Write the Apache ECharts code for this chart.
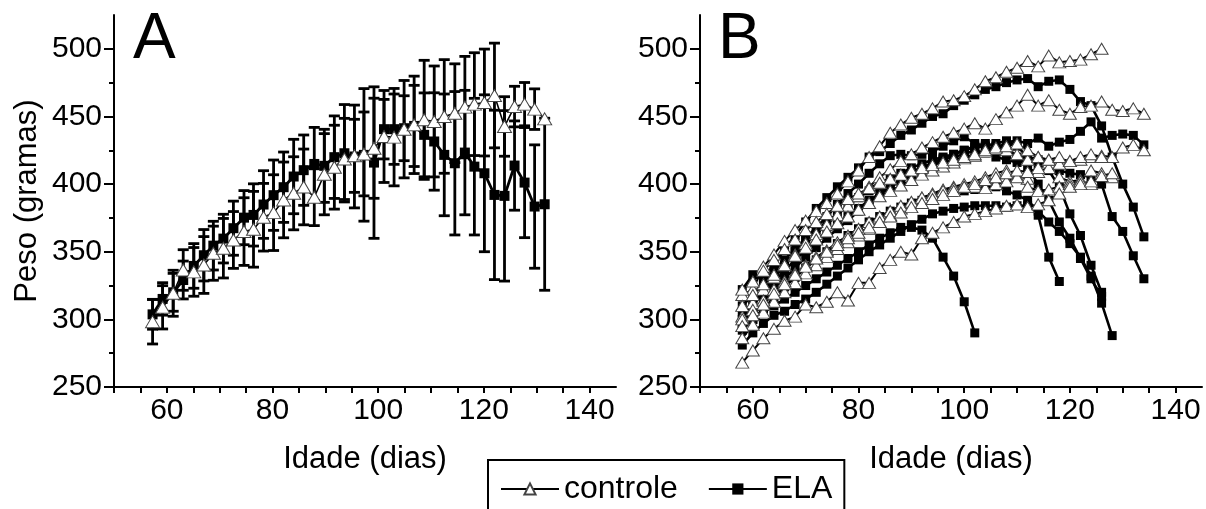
<!DOCTYPE html>
<html><head><meta charset="utf-8">
<script src="https://cdn.jsdelivr.net/npm/echarts@6/dist/echarts.min.js"></script>
<style>html,body{margin:0;padding:0;background:#fff}#c{width:1206px;height:509px}</style>
</head><body><div id="c"></div>
<script>
// ---------- Panel A : group means ± SD ----------
const daysA = [57.3,59.2,61.2,63.1,65.1,67.0,68.8,70.7,72.6,74.6,76.4,78.3,80.2,82.1,84.0,85.9,87.9,89.8,91.7,93.6,95.5,97.3,99.2,101.1,103.0,104.9,106.8,108.7,110.6,112.5,114.5,116.4,118.2,120.1,122.0,123.9,125.8,127.7,129.6,131.5];
const elaMeanA = [303.7,315.1,320,329.1,339.5,347.4,354.5,359.7,367.4,375.2,377.2,384.9,391.8,397.7,405.6,410.3,414.9,413.5,419.9,422.8,420.4,421.6,415.9,440.6,440.6,441.3,443.0,436.4,431.5,421.6,415.4,423.3,412.9,408.0,392.0,391.3,413.7,401.1,383.4,385.1];
const elaSdA = [11,12,14,14,16.5,19,18,18,20,20,23,25,26,26,27.5,26,27,27,30.5,36,38,49,56,22,26,24,30,31,36,45,53,46,50.5,58,62.6,63,33,40.7,45.6,63.6];
const ctrlMeanA = [298.3,308.9,319.3,336.5,335.1,340.2,348.9,352.6,358.7,364.9,366.6,375.5,378.9,388.3,393.2,397.9,390.3,407.3,412.5,418.6,420.9,422.3,426.5,435.2,434.7,440.6,443.8,447.5,446.3,450.0,452.4,456.9,459.1,460.3,465.5,442.6,457.3,459.1,455.4,448.2];
const ctrlSdA = [16.5,16,17,15,18,21,20,22,21,25,28,25,28,28,27,28,21,30,31,30,27,31,37,34,36,36,36,44,41,42,36.5,37.5,38,39.5,38.7,22,15,16,15,0];

// ---------- Panel B : individual animals ----------
const daysB = [58,60,62,64,66,68,70,72,74,76,78,80,82,84,86,88,90,92,94,96,98,100,102,104,106,108,110,112,114,116,118,120,122,124,126,128,130,132,134];
const ctrlB1 = [318,322,339,348,358,366,373,380,386,393,402,410,420,428,438,444,449,452,456,461,462,465,470,476,479,483,486,491,487,495,490,491,492,496,500];
const ctrlB2 = [302,312,322,331,340,348,356,363,370,377,384,391,398,405,411,417,422,427,431,435,438,441,445,441,448,453,458,466,458,462,455,452,457,458,461,455,454,456,452];
const ctrlB3 = [310,318,326,333,340,347,353,359,365,371,376,381,386,391,395,399,403,407,410,413,416,419,421,424,426,425,422,418,420,416,419,417,418,420,421,420,427,429,425];
const ctrlB4 = [286,296,305,313,320,327,334,340,346,352,357,362,367,372,377,382,386,390,393,396,398,400,402,405,408,410,406,404,409,412,405,402,403,410,408,405];
const ctrlB5 = [300,307,314,322,328,334,340,346,351,357,362,367,372,376,380,384,387,390,392,395,397,398,398,397,400,402,405,398,395,396,398,400,402,400];
const ctrlB6 = [268,277,286,293,299,302,311,309,313,320,314,327,327,338,344,350,348,360,364,368,372,376,378,380,382,384,385,383,385,388,393,398,400,402,406,408];
const ctrlB7 = [322,328,336,344,352,359,366,372,378,384,389,393,397,401,404,407,410,412,414,416,418,420,422,425,427,428,430,425,420,418,415,417,420,422,420];
const ctrlB8 = [295,303,311,319,326,333,339,345,350,355,360,364,368,372,376,379,383,386,389,392,395,398,400,403,405,408,410,409,412,418,420];
const elaB1 = [295,300,305,310,315,320,325,330,335,340,345,350,355,360,364,368,368,366,360,346,332,313,290];
const elaB2 = [322,333,331,340,352,362,372,382,390,398,405,412,420,424,430,436,440,445,450,452,458,462,466,470,472,475,477,478,472,476,477,470,461,458,443,420,400,383,361];
const elaB3 = [305,312,320,328,336,344,351,358,364,370,376,382,388,393,398,402,406,410,414,418,420,422,425,423,420,418,416,418,415,412,410,408,407,405,400,376,365,347,330];
const elaB4 = [300,310,320,330,340,350,360,368,376,385,393,400,408,415,421,422,421,422,424,428,432,435,430,428,426,431,432,430,434,428,431,433,439,446,434,436,437,436,429];
const elaB5 = [281,290,297,303,306,311,315,320,326,332,338,344,350,355,360,365,370,374,378,380,382,383,384,384,384,383,384,384,377,346,328];
const elaB6 = [310,318,328,336,344,352,360,366,372,378,384,390,395,400,405,408,412,415,418,420,422,425,428,430,428,425,420,412,400,388,372,360,345,330,317];
const elaB7 = [292,300,308,316,324,331,338,344,350,356,362,367,372,376,380,383,386,388,390,392,394,395,396,397,398,395,392,388,380,372,365,356,346,332,312,288];
const elaB8 = [298,306,314,322,330,338,346,353,360,367,373,380,386,392,398,403,408,412,416,419,422,425,427,428,430,432,428,420,418,410,398,378,362,340,320];

const ctrlCurvesB = [ctrlB1,ctrlB2,ctrlB3,ctrlB4,ctrlB5,ctrlB6,ctrlB7,ctrlB8];
const elaCurvesB = [elaB1,elaB2,elaB3,elaB4,elaB5,elaB6,elaB7,elaB8];

// ---------- axes ----------
const xLabelValues = [60,80,100,120,140];
const xTickValues = [50,55,60,65,70,75,80,85,90,95,100,105,110,115,120,125,130,135,140];
const yLabelValues = [250,300,350,400,450,500];
const yMinorValues = [275,325,375,425,475];

const FONT = '"Liberation Sans", Arial, Helvetica, sans-serif';
const BLACK = '#000';

function xAxisDef(gi) {
  return {
    type:'value', gridIndex:gi, min:50, max:145, interval:5,
    axisLine:{onZero:false, lineStyle:{color:BLACK, width:2}},
    axisTick:{show:true, inside:false, length:6, customValues:xTickValues, lineStyle:{color:BLACK, width:2}},
    axisLabel:{customValues:xLabelValues, margin:9, fontSize:30, fontFamily:FONT, color:'#000',
      formatter:(v)=> xLabelValues.indexOf(v) >= 0 ? String(v) : ''},
    splitLine:{show:false}
  };
}
function yAxisMain(gi) {
  return {
    type:'value', gridIndex:gi, min:250, max:525, interval:50, position:'left',
    axisLine:{onZero:false, lineStyle:{color:BLACK, width:2}},
    axisTick:{show:true, inside:false, length:10, customValues:yLabelValues, lineStyle:{color:BLACK, width:2}},
    axisLabel:{customValues:yLabelValues, margin:12, fontSize:30, fontFamily:FONT, color:'#000',
      formatter:(v)=> yLabelValues.indexOf(v) >= 0 ? String(v) : ''},
    splitLine:{show:false}
  };
}
function yAxisMinor(gi) {
  return {
    type:'value', gridIndex:gi, min:250, max:525, interval:25, position:'left', offset:0,
    axisLine:{show:false},
    axisTick:{show:true, inside:false, length:5, customValues:yMinorValues, lineStyle:{color:BLACK, width:2}},
    axisLabel:{show:false}, splitLine:{show:false}
  };
}

function errData(days, mean, sd) {
  const out = [];
  for (let i = 0; i < days.length; i++) if (sd[i] > 0) out.push([days[i], mean[i]-sd[i], mean[i]+sd[i]]);
  return out;
}
function errItem(params, api) {
  const x = api.value(0);
  const a = api.coord([x, api.value(1)]);
  const b = api.coord([x, api.value(2)]);
  const w = 5.5;
  const st = {stroke:BLACK, lineWidth:2.8};
  return {type:'group', children:[
    {type:'line', shape:{x1:a[0], y1:a[1], x2:b[0], y2:b[1]}, style:st},
    {type:'line', shape:{x1:a[0]-w, y1:a[1], x2:a[0]+w, y2:a[1]}, style:st},
    {type:'line', shape:{x1:b[0]-w, y1:b[1], x2:b[0]+w, y2:b[1]}, style:st}
  ]};
}
function pairs(days, vals) {
  const out = [];
  for (let i = 0; i < vals.length; i++) if (vals[i] != null) out.push([days[i], vals[i]]);
  return out;
}

const ctrlSym = {symbol:'triangle', itemStyle:{color:'#fff', borderColor:'#444', borderWidth:1}};
const elaSym = {symbol:'rect', itemStyle:{color:BLACK}};

const series = [];
series.push({type:'custom', name:'errELA', xAxisIndex:0, yAxisIndex:0, renderItem:errItem,
  encode:{x:0, y:[1,2]}, data:errData(daysA, elaMeanA, elaSdA), z:1, silent:true});
series.push({type:'custom', name:'errCtrl', xAxisIndex:0, yAxisIndex:0, renderItem:errItem,
  encode:{x:0, y:[1,2]}, data:errData(daysA, ctrlMeanA, ctrlSdA), z:1, silent:true});
series.push(Object.assign({type:'line', name:'ELA', xAxisIndex:0, yAxisIndex:0, data:pairs(daysA, elaMeanA),
  symbolSize:10, lineStyle:{color:BLACK, width:2.8}, z:3}, elaSym));
series.push(Object.assign({type:'line', name:'controle', xAxisIndex:0, yAxisIndex:0, data:pairs(daysA, ctrlMeanA),
  symbolSize:[14,12], lineStyle:{color:BLACK, width:1.6}, z:4}, ctrlSym));

elaCurvesB.forEach(c => series.push(Object.assign({type:'line', name:'ELA', xAxisIndex:1, yAxisIndex:2,
  data:pairs(daysB, c), symbolSize:9, lineStyle:{color:BLACK, width:2.6}, z:3}, elaSym)));
ctrlCurvesB.forEach(c => series.push(Object.assign({type:'line', name:'controle', xAxisIndex:1, yAxisIndex:2,
  data:pairs(daysB, c), symbolSize:[13,11], lineStyle:{color:BLACK, width:2}, z:4}, ctrlSym)));

const chart = echarts.init(document.getElementById('c'), null, {renderer:'canvas'});
chart.setOption({
  animation:false,
  backgroundColor:'#fff',
  textStyle:{fontFamily:FONT},
  grid:[
    {left:114, top:15, width:502, height:372},
    {left:700, top:15, width:502, height:372}
  ],
  xAxis:[xAxisDef(0), xAxisDef(1)],
  yAxis:[yAxisMain(0), yAxisMinor(0), yAxisMain(1), yAxisMinor(1)],
  legend:{
    data:['controle','ELA'], left:488, top:460, orient:'horizontal',
    itemWidth:58, itemHeight:14, itemGap:30,
    padding:[13,12,40,12], borderColor:BLACK, borderWidth:2, backgroundColor:'#fff',
    textStyle:{fontSize:32, fontFamily:FONT, color:'#000'},
    selectedMode:false
  },
  graphic:[
    {type:'text', x:133, y:40, style:{text:'A', font:'64px ' + FONT, fill:BLACK, align:'left', verticalAlign:'middle'}},
    {type:'text', x:718, y:40, style:{text:'B', font:'64px ' + FONT, fill:BLACK, align:'left', verticalAlign:'middle'}},
    {type:'text', x:27, y:201, rotation:Math.PI/2, style:{text:'Peso (gramas)', font:'31px ' + FONT, fill:'#000', align:'center', verticalAlign:'middle'}},
    {type:'text', x:365, y:459, style:{text:'Idade (dias)', font:'31px ' + FONT, fill:'#000', align:'center', verticalAlign:'middle'}},
    {type:'text', x:951, y:459, style:{text:'Idade (dias)', font:'31px ' + FONT, fill:'#000', align:'center', verticalAlign:'middle'}}
  ],
  series:series
});
</script>
</body></html>
